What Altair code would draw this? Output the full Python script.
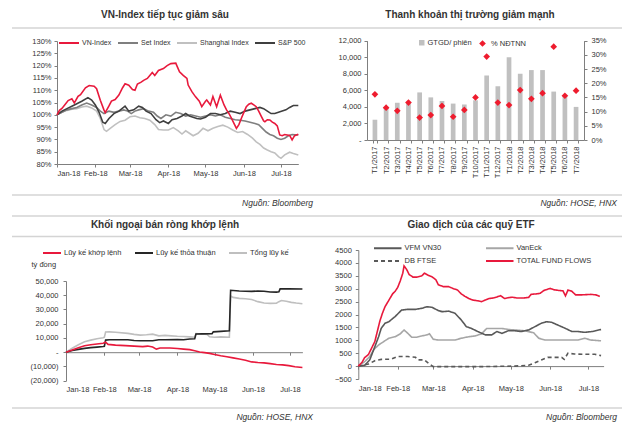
import altair as alt
import pandas as pd

FONT = "Liberation Sans"
TXT = "#333333"
AX = "#7f7f7f"

# ---------------- Panel 1: VN-Index tiếp tục giảm sâu ----------------
p1_names = ["VN-Index", "Set Index", "Shanghai Index", "S&P 500"]
p1_colors = ["#e8193c", "#7f7f7f", "#c0c0c0", "#3f3f3f"]

vn_days = [0, 2, 4, 7, 9, 12, 14, 17, 19, 23, 26, 30, 32, 35, 38, 39, 42, 44, 47, 50, 53, 55, 58, 61, 63,
           65, 68, 70, 73, 75, 77, 79, 82, 86, 89, 92, 96, 97, 99, 102, 105, 106, 109, 112, 115, 117, 120,
           121, 124, 126, 129, 132, 135, 137, 139, 141, 143, 145, 147, 149, 151, 153, 155, 157, 159, 161,
           163, 165, 167, 168, 170, 172, 174, 176, 178, 180, 182, 184, 186, 188, 190, 192, 195]
vn_vals = [100, 101.8, 102.6, 104.5, 105.8, 106.5, 104.8, 107.5, 108.2, 111.0, 111.9, 111.6, 110.6, 105.9,
           101.9, 100.9, 103.6, 105.6, 106.2, 108.0, 111.0, 112.6, 112.0, 110.3, 110.0, 112.5, 113.3, 114.0,
           114.8, 116.0, 117.2, 116.0, 118.0, 118.8, 120.0, 120.8, 121.0, 119.8, 117.5, 116.0, 114.8, 112.1,
           109.4, 107.3, 105.5, 103.3, 105.5, 106.0, 104.0, 107.4, 103.3, 108.0, 104.0, 102.0, 100.5, 98.6,
           96.5, 94.5, 96.0, 98.6, 101.0, 103.3, 104.3, 104.7, 104.0, 103.3, 101.5, 99.5, 97.5, 97.2, 98.0,
           97.9, 97.0, 96.5, 95.5, 91.8, 91.5, 92.0, 91.8, 91.6, 89.8, 91.5, 92.1]

set_days = [0, 4, 8, 12, 16, 20, 24, 28, 32, 35, 38, 42, 46, 50, 54, 57, 60, 63, 66, 70, 74, 78, 81, 84, 88,
            92, 96, 100, 104, 108, 112, 116, 120, 124, 128, 132, 136, 140, 144, 148, 152, 156, 160, 163, 166,
            169, 172, 175, 178, 181, 184, 187, 190, 195]
set_vals = [100, 101, 102, 102.5, 103, 104, 104.8, 104, 103, 101.5, 100.5, 101.5, 101, 101.5, 102, 101.5,
            100.5, 101.5, 102, 102.5, 101.5, 101, 99.5, 98.5, 100, 99.5, 101, 100.5, 99.5, 100, 99.5, 99,
            99.5, 100, 99.5, 100, 99, 98.5, 98, 97.8, 97.5, 97, 96.5, 96, 94.5, 93, 92, 91.5, 90.5, 90, 90.5,
            91.5, 92, 91.8]

sh_days = [0, 4, 8, 12, 16, 20, 24, 28, 32, 35, 38, 40, 43, 47, 51, 55, 59, 63, 67, 71, 75, 79, 82, 86, 90,
           94, 98, 101, 104, 107, 110, 114, 118, 122, 126, 130, 134, 138, 142, 146, 150, 154, 158, 161, 164,
           167, 170, 173, 176, 179, 181, 184, 188, 191, 195]
sh_vals = [100, 101, 101.8, 102.3, 102.5, 103.2, 103.5, 102.8, 101.5, 98.5, 94, 93.3, 94.5, 96, 97.3, 97.8,
           99.2, 99.5, 98.8, 98.5, 97.8, 96, 94, 93.8, 93.8, 94.8, 93.5, 92.2, 93.5, 92.5, 91.5, 92.5, 94.5,
           93.5, 94.5, 95.2, 95.8, 95, 93.8, 92.8, 93.2, 92, 90.5, 89, 88, 86.5, 85.7, 85, 84.5, 83, 82.3,
           83.7, 84.8, 84.3, 83.7]

sp_days = [0, 4, 8, 12, 16, 20, 25, 28, 31, 34, 37, 39, 42, 46, 50, 55, 58, 62, 66, 69, 72, 76, 80, 83, 86,
           90, 93, 97, 101, 104, 107, 110, 113, 116, 120, 124, 128, 132, 136, 140, 144, 148, 152, 156, 160,
           164, 167, 170, 173, 176, 179, 182, 185, 188, 191, 195]
sp_vals = [100, 101.5, 102.5, 103.5, 104.5, 105.5, 107, 106, 104, 101, 97, 96.5, 98.5, 100.5, 101.5, 103.5,
           101.5, 102, 103.5, 103, 101.5, 100.5, 98, 96.8, 97.5, 96.5, 98, 98.5, 99.5, 100.5, 99.5, 99,
           98.5, 98.3, 99, 100.5, 100.5, 100, 100.5, 101.5, 101, 100.5, 101.5, 102, 102.5, 103, 102.5,
           101.5, 100.5, 100.5, 101, 101.5, 102, 103, 103.8, 103.8]

# ---------------- Panel 2: Thanh khoản thị trường giảm mạnh ----------------
p2_months = ["T1/2017", "T2/2017", "T3/2017", "T4/2017", "T5/2017", "T6/2017", "T7/2017", "T8/2017",
             "T9/2017", "T10/2017", "T11/2017", "T12/2017", "T1/2018", "T2/2018", "T3/2018", "T4/2018",
             "T5/2018", "T6/2018", "T7/2018"]
p2_gtgd = [2450, 4000, 4500, 4400, 5750, 5150, 4700, 4400, 4300, 4800, 7800, 6500, 10000, 8000, 8450, 8450,
           5850, 5300, 4000]
p2_pct = [16.1, 11.4, 10.3, 13.2, 7.9, 8.8, 12.0, 8.2, 10.6, 15.0, 29.4, 13.2, 12.3, 17.6, 14.5, 16.5, 32.9,
          15.6, 17.4]

# ---------------- Panel 3: Khối ngoại bán ròng khớp lệnh ----------------
p3_names = ["Lũy kế khớp lệnh", "Lũy kế thỏa thuận", "Tổng lũy kế"]
p3_colors = ["#e8193c", "#262626", "#bfbfbf"]

kl_days = [0, 5, 10, 15, 20, 25, 30, 32, 34, 40, 48, 55, 62, 66, 70, 73, 76, 84, 90, 95, 100, 104, 108, 112,
           116, 120, 125, 130, 135, 140, 145, 150, 155, 160, 165, 170, 175, 180, 185, 191]
kl_vals = [0, 1500, 3200, 4500, 5200, 5800, 6300, 7000, 5500, 5000, 4600, 4300, 3900, 4300, 3600, 2200, 3000,
           3000, 2600, 2200, 1800, 1000, 200, -300, -800, -1600, -2500, -3200, -4000, -4800, -5600, -6800,
           -7200, -7500, -8000, -8600, -8900, -9400, -10200, -10700]

tt_days = [0, 5, 10, 15, 20, 25, 30, 31, 32, 35, 40, 50, 55, 60, 70, 75, 80, 90, 95, 100, 104, 105, 110, 118,
           119, 125, 132, 133, 140, 150, 155, 160, 165, 170, 172, 173, 180, 191]
tt_vals = [0, 1200, 2000, 2700, 3200, 3600, 4000, 4200, 8500, 8700, 8800, 8700, 8200, 8000, 8100, 8700, 8800,
           8900, 8800, 9300, 9500, 12800, 12900, 13000, 14300, 14600, 15000, 43500, 43000, 42700, 43000,
           42800, 42300, 42200, 42400, 44500, 44600, 44400]

tong_days = [0, 5, 10, 15, 20, 25, 30, 31, 32, 35, 40, 50, 55, 60, 65, 70, 75, 80, 85, 90, 95, 100, 104, 105,
             110, 114, 116, 120, 125, 132, 133, 135, 140, 145, 150, 155, 160, 165, 170, 172, 174, 178, 182,
             186, 191]
tong_vals = [0, 2800, 5200, 7300, 8500, 9500, 10200, 10500, 14200, 14300, 14000, 13200, 12500, 12000, 12300,
             12700, 11500, 11800, 11500, 11200, 11000, 10800, 10500, 13000, 12800, 12500, 10800, 10500, 10800,
             10500, 39500, 38500, 37800, 37500, 37000, 35500, 34500, 34300, 34400, 35500, 36300, 35800, 35000,
             34500, 34000]

# ---------------- Panel 4: Giao dịch của các quỹ ETF ----------------
# legend order (column-major, 2 rows): VFM VN30 / DB FTSE | VanEck / TOTAL FUND FLOWS
p4_names = ["VFM VN30", "DB FTSE", "VanEck", "TOTAL FUND FLOWS"]
p4_colors = ["#595959", "#595959", "#a6a6a6", "#e8193c"]
p4_dash = [[1, 0], [4, 3], [1, 0], [1, 0]]

tot_days = [0, 3, 5, 8, 10, 13, 15, 17, 19, 21, 24, 27, 29, 31, 33, 35, 36, 38, 40, 43, 46, 50, 52, 55, 58,
            61, 63, 67, 71, 75, 78, 81, 84, 87, 90, 94, 97, 100, 103, 106, 109, 112, 115, 118, 121, 125, 130,
            134, 136, 140, 143, 146, 149, 151, 154, 158, 161, 163, 165, 168, 171, 175, 179, 183, 187, 190]
tot_vals = [0, 150, 330, 450, 650, 950, 1350, 1750, 2050, 2300, 2550, 2800, 2900, 3050, 3300, 3600, 3880,
            3750, 3550, 3450, 3450, 3500, 3600, 3520, 3460, 3350, 3150, 3080, 3080, 3000, 2950, 2800, 2700,
            2620, 2560, 2530, 2500, 2560, 2620, 2640, 2680, 2730, 2620, 2650, 2670, 2640, 2640, 2660, 2780,
            2800, 2820, 2930, 2980, 3010, 2960, 2930, 2920, 2720, 2950, 2900, 2760, 2760, 2770, 2780, 2760,
            2700]

vfm_days = [0, 5, 9, 13, 16, 18, 21, 24, 29, 34, 39, 45, 50, 54, 58, 63, 66, 71, 76, 81, 85, 89, 94, 100, 105,
            109, 113, 118, 123, 128, 134, 139, 144, 148, 152, 157, 163, 168, 173, 178, 184, 191]
vfm_vals = [0, 30, 240, 750, 1140, 1460, 1660, 1720, 1920, 2170, 2200, 2200, 2240, 2300, 2280, 2150, 2110,
            2130, 2050, 1790, 1530, 1460, 1340, 1210, 1210, 1340, 1270, 1370, 1370, 1340, 1400, 1530, 1660,
            1720, 1700, 1590, 1460, 1340, 1340, 1310, 1340, 1420]

ve_days = [0, 5, 9, 12, 16, 20, 24, 29, 33, 36, 39, 42, 46, 50, 54, 56, 59, 63, 71, 76, 81, 87, 92, 97, 101,
           105, 113, 118, 123, 131, 138, 142, 147, 155, 165, 173, 178, 183, 191]
ve_vals = [0, 170, 370, 630, 820, 950, 1080, 1140, 1250, 1400, 1270, 1120, 1120, 1170, 1210, 1250, 1040,
           1010, 1010, 1010, 1080, 1140, 1170, 1250, 1460, 1460, 1460, 1420, 1400, 1370, 1290, 1080, 1010,
           1010, 1010, 1010, 1080, 1010, 980]

db_days = [0, 8, 13, 18, 26, 31, 39, 45, 47, 52, 56, 59, 71, 97, 123, 134, 139, 144, 149, 160, 162, 165, 170,
           176, 186, 191]
db_vals = [0, 80, 210, 260, 270, 370, 370, 340, 240, 240, 80, -20, -20, -20, 0, 30, 130, 240, 340, 340, 260,
           500, 470, 460, 460, 405]

panel_titles = ["VN-Index tiếp tục giảm sâu", "Thanh khoản thị trường giảm mạnh",
                "Khối ngoại bán ròng khớp lệnh", "Giao dịch của các quỹ ETF"]
sources = ["Nguồn: Bloomberg", "Nguồn: HOSE, HNX", "Nguồn: HOSE, HNX", "Nguồn: Bloomberg"]


# ---------------- helpers ----------------
def to_dates(days):
    base = pd.Timestamp("2018-01-01")
    return [(base + pd.Timedelta(days=int(d))).strftime("%Y-%m-%dT00:00:00") for d in days]


def frame(days, vals, name):
    return pd.DataFrame({"date": to_dates(days), "v": vals, "s": name})


def dt(m, d):
    return alt.DateTime(year=2018, month=m, date=d)


months = [dt(m, 1) for m in range(1, 8)]
W, H = 614, 415

# ---------------- Panel 1 ----------------
df1 = pd.concat([frame(sh_days, sh_vals, "Shanghai Index"), frame(set_days, set_vals, "Set Index"),
                 frame(sp_days, sp_vals, "S&P 500"), frame(vn_days, vn_vals, "VN-Index")])
p1 = alt.Chart(df1).mark_line(strokeWidth=1.6).encode(
    x=alt.X("date:T", scale=alt.Scale(domain=[dt(1, 1), dt(7, 15)], range=[49, 290.3]),
            axis=alt.Axis(orient="bottom", offset=156 - H, values=months, format="%b-%y", title=None,
                          tickSize=3, labelPadding=2)),
    y=alt.Y("v:Q", scale=alt.Scale(domain=[80, 130], range=[156, 33], zero=False, nice=False),
            axis=alt.Axis(orient="left", offset=-49, values=list(range(80, 131, 5)), title=None,
                          labelExpr="datum.value + '%'", tickSize=3, labelPadding=3)),
    color=alt.Color("s:N", scale=alt.Scale(domain=p1_names, range=p1_colors),
                    legend=alt.Legend(orient="none", legendX=50, legendY=24, direction="horizontal",
                                      title=None, symbolType="stroke", symbolSize=400, symbolStrokeWidth=2,
                                      labelOffset=2, columnPadding=2, labelFontSize=7)),
)

# ---------------- Panel 2 ----------------
df2 = pd.DataFrame({"m": p2_months, "gtgd": p2_gtgd, "pct": p2_pct,
                    "s1": "GTGD/ phiên", "s2": "% NĐTNN"})
bars = alt.Chart(df2).mark_bar().encode(
    x=alt.X("m:N", sort=p2_months,
            scale=alt.Scale(domain=p2_months, range=[359, 576], paddingInner=0.58, paddingOuter=0.5),
            axis=alt.Axis(orient="bottom", offset=132 - H, labelAngle=-90, labelAlign="right",
                          labelBaseline="middle", labelOverlap=False, title=None, tickBand="extent",
                          tickSize=3, labelPadding=3)),
    y=alt.Y("gtgd:Q", scale=alt.Scale(domain=[0, 12000], range=[132, 32.7], nice=False),
            axis=alt.Axis(orient="left", offset=-359, values=list(range(0, 12001, 2000)), title=None,
                          labelExpr="datum.value == 0 ? '-' : format(datum.value, ',')",
                          tickSize=3, labelPadding=3)),
    color=alt.Color("s1:N", scale=alt.Scale(range=["#c0c0c0"]),
                    legend=alt.Legend(orient="none", legendX=410, legendY=31, title=None,
                                      symbolType="square", symbolSize=30, labelOffset=2)),
)
points = alt.Chart(df2).mark_point(shape="diamond", filled=True, size=45, opacity=1).encode(
    x=alt.X("m:N", sort=p2_months, axis=None),
    y=alt.Y("pct:Q", scale=alt.Scale(domain=[0, 35], range=[132, 32.7], nice=False),
            axis=alt.Axis(orient="right", offset=576 - W, values=list(range(0, 36, 5)), title=None,
                          labelExpr="datum.value + '%'", tickSize=3, labelPadding=4)),
    color=alt.Color("s2:N", scale=alt.Scale(range=["#ee1c2e"]),
                    legend=alt.Legend(orient="none", legendX=470, legendY=31, title=None,
                                      symbolType="diamond", symbolSize=45, labelOffset=4)),
)
p2 = alt.layer(bars, points).resolve_scale(y="independent", color="independent").resolve_axis(
    x="independent")

# ---------------- Panel 3 ----------------
df3 = pd.concat([frame(tong_days, tong_vals, "Tổng lũy kế"), frame(tt_days, tt_vals, "Lũy kế thỏa thuận"),
                 frame(kl_days, kl_vals, "Lũy kế khớp lệnh")])
neg_fmt = ("datum.value == 0 ? '-' : (datum.value < 0 ? '(' + format(-datum.value, ',') + ')'"
           " : format(datum.value, ','))")
lines3 = alt.Chart(df3).mark_line(strokeWidth=1.6).encode(
    x=alt.X("date:T", scale=alt.Scale(domain=[dt(1, 1), dt(7, 11)], range=[58, 294.4]),
            axis=alt.Axis(orient="bottom", offset=344.2 - H, values=months, labels=False, title=None,
                          tickSize=3)),
    y=alt.Y("v:Q", scale=alt.Scale(domain=[-20000, 50000], range=[372.7, 273], nice=False, zero=False),
            axis=alt.Axis(orient="left", offset=-58, values=list(range(-20000, 50001, 10000)),
                          labelExpr=neg_fmt, tickSize=3, labelPadding=5,
                          title="tỷ đồng", titleAngle=0, titleX=-35, titleY=256, titleAlign="left",
                          titleBaseline="middle", titleFontWeight="normal", titleFontSize=7.5,
                          titleColor=TXT, titleFont=FONT)),
    color=alt.Color("s:N", scale=alt.Scale(domain=p3_names, range=p3_colors),
                    legend=alt.Legend(orient="none", legendX=34, legendY=235, direction="horizontal",
                                      title=None, symbolType="stroke", symbolSize=324, symbolStrokeWidth=2,
                                      labelOffset=2, columnPadding=9)),
)
labels3 = alt.Chart(df3).mark_rule(opacity=0).encode(
    x=alt.X("date:T", axis=alt.Axis(orient="bottom", offset=372.7 - H, values=months, format="%b-%y",
                                    title=None, domain=False, ticks=False, tickSize=0, labelPadding=5)),
)
p3 = alt.layer(lines3, labels3).resolve_axis(x="independent")

# ---------------- Panel 4 ----------------
df4 = pd.concat([frame(db_days, db_vals, "DB FTSE"), frame(ve_days, ve_vals, "VanEck"),
                 frame(vfm_days, vfm_vals, "VFM VN30"), frame(tot_days, tot_vals, "TOTAL FUND FLOWS")])
# a long flat stroke symbol drawn from a small symbol box, so rows stay compact
leg4 = alt.Legend(orient="none", legendX=365, legendY=233.5, columns=2, title=None,
                  symbolType="M-1,0H4", symbolSize=121, symbolStrokeWidth=2, symbolFillColor="transparent",
                  labelOffset=18.5, columnPadding=40, rowPadding=2)
lines4 = alt.Chart(df4).mark_line(strokeWidth=1.6).encode(
    x=alt.X("date:T", scale=alt.Scale(domain=[dt(1, 1), dt(7, 13)], range=[350.3, 595.6]),
            axis=alt.Axis(orient="bottom", offset=358.1 - H, values=months, labels=False, title=None,
                          tickSize=3)),
    y=alt.Y("v:Q", scale=alt.Scale(domain=[-500, 4500], range=[371, 242], nice=False, zero=False),
            axis=alt.Axis(orient="left", offset=-350.3, values=list(range(-500, 4501, 500)), format="d",
                          title=None, tickSize=3, labelPadding=4)),
    color=alt.Color("s:N", scale=alt.Scale(domain=p4_names, range=p4_colors), legend=leg4),
    strokeDash=alt.StrokeDash("s:N", scale=alt.Scale(domain=p4_names, range=p4_dash), legend=leg4),
)
labels4 = alt.Chart(df4).mark_rule(opacity=0).encode(
    x=alt.X("date:T", axis=alt.Axis(orient="bottom", offset=371 - H, values=months, format="%b-%y",
                                    title=None, domain=False, ticks=False, tickSize=0, labelPadding=5)),
)
p4 = alt.layer(lines4, labels4).resolve_axis(x="independent")

# ---------------- decorations: titles, sources, separators ----------------
dummy = pd.DataFrame({"k": [0]})


def text_layer(txt, x, y, **kw):
    return alt.Chart(dummy).mark_text(font=FONT, color=TXT, baseline="middle", **kw).encode(
        x=alt.value(x), y=alt.value(y), text=alt.value(txt))


def sep(y):
    return alt.Chart(dummy).mark_rule(color="#d4d4d4", strokeWidth=1.5).encode(
        x=alt.value(4), x2=alt.value(614), y=alt.value(y))


decor = [
    text_layer(panel_titles[0], 157, 7, fontSize=10, fontWeight="bold", align="center"),
    text_layer(panel_titles[1], 462, 7, fontSize=10, fontWeight="bold", align="center"),
    text_layer(panel_titles[2], 157, 217, fontSize=10, fontWeight="bold", align="center"),
    text_layer(panel_titles[3], 463, 217, fontSize=10, fontWeight="bold", align="center"),
    text_layer(sources[0], 305, 195, fontSize=8.5, fontStyle="italic", align="right"),
    text_layer(sources[1], 609, 195, fontSize=8.5, fontStyle="italic", align="right"),
    text_layer(sources[2], 305, 409, fontSize=8.5, fontStyle="italic", align="right"),
    text_layer(sources[3], 609, 409, fontSize=8.5, fontStyle="italic", align="right"),
    sep(20), sep(187), sep(208), sep(228.5), sep(400),
]

chart = alt.layer(p1, p2, p3, p4, *decor).resolve_scale(
    x="independent", y="independent", color="independent", strokeDash="independent"
).properties(
    width=W, height=H, padding=0, autosize=alt.AutoSizeParams(type="none"), background="white"
).configure_axis(
    labelFont=FONT, labelFontSize=7.5, labelColor=TXT, domainColor=AX, tickColor=AX, grid=False,
    titleFont=FONT
).configure_legend(
    labelFont=FONT, labelFontSize=7.5, labelColor=TXT
).configure_view(stroke=None)

chart.save("out.html", embed_options={"renderer": "svg", "actions": False})
